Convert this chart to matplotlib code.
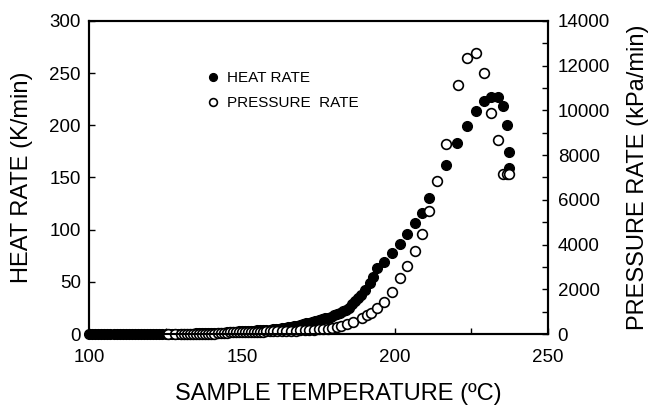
import matplotlib
matplotlib.use("Agg")
import matplotlib.pyplot as plt
from matplotlib.ticker import MultipleLocator

plt.rcParams["font.family"] = ["Liberation Sans", "DejaVu Sans"]

# heating rate (K/min) vs sample temperature (C)
HEAT_TEMP = [
    100, 101, 102, 103, 104, 105, 106, 107, 108, 109,
    110, 111, 112, 113, 114, 115, 116, 117, 118, 119,
    120, 121, 122, 123, 124, 125, 126, 127, 128, 129,
    130, 131, 132, 133, 134, 135, 136, 137, 138, 139,
    140, 141, 142, 143, 144, 145, 146, 147, 148, 149,
    150, 151, 152, 153, 154, 155, 156, 157, 158, 159,
    160, 161, 162, 163, 164, 165, 166, 167, 168, 169,
    170, 171, 172, 173, 174, 175, 176, 177, 178, 179,
    180, 181, 182, 183, 184, 185, 186, 187, 188, 189,
    190.2, 191.8, 192.9, 194.0, 196.5, 199.1, 201.6, 204.0, 206.5, 208.9,
    211.1, 216.6, 220.4, 223.4, 226.5, 229.1, 231.4, 233.6, 235.4, 236.5,
    237.4, 237.4,
]
HEAT_RATE = [
    0, 0, 0, 0, 0, 0, 0, 0, 0, 0,
    0, 0, 0, 0, 0, 0, 0, 0, 0, 0,
    0.5, 0.5, 0.5, 0.5, 0.5, 0.5, 0.5, 0.5, 0.5, 0.5,
    0.5, 0.5, 0.5, 0.5, 0.5, 1, 1, 1, 1, 1,
    1, 1, 1, 1, 1, 2.0, 2.2, 2.3, 2.5, 2.7,
    2.8, 2.9, 3.0, 3.2, 3.3, 3.5, 3.6, 3.8, 4.1, 4.4,
    4.8, 5.0, 5.4, 5.8, 6.3, 6.7, 7.2, 7.6, 8.0, 8.7,
    9.5, 10.3, 11.0, 11.7, 12.6, 13.3, 14.2, 15.0, 15.8, 16.8,
    18.0, 19.3, 20.5, 21.7, 23.0, 25.5, 28.5, 31.5, 34.5, 37.4,
    42.2, 48.6, 54.4, 63.0, 69.3, 78.0, 86.0, 95.6, 106.7, 116.3,
    130.7, 162.0, 183.4, 199.4, 213.8, 223.4, 227.5, 227.5, 218.6, 200.4,
    174.8, 159.4,
]

# pressure rise rate (kPa/min) vs sample temperature (C)
PRESS_TEMP = [
    125.8, 128.0, 130.0, 131.0, 132.0, 133.0, 134.0, 135.0, 136.0, 137.0,
    138.0, 139.0, 140.0, 141.0, 142.0, 143.0, 144.0, 145.0, 146.0, 147.0,
    148.0, 149.0, 150.0, 151.0, 152.0, 153.0, 154.0, 155.0, 156.0, 157.0,
    158.0, 159.0, 160.0, 161.5, 163.0, 164.5, 166.0, 167.5, 169.0, 170.5,
    172.0, 173.5, 175.0, 176.5, 178.0, 179.5, 181.0, 182.5, 184.2, 186.4,
    189.1, 190.7, 192.2, 194.0, 196.5, 199.1, 201.6, 204.0, 206.5, 208.9,
    211.2, 213.8, 216.6, 220.6, 223.4, 226.5, 229.2, 231.4, 233.6, 235.2,
    236.5, 237.4,
]
PRESS_RATE = [
    0, 0, 0, 0, 0, 0, 0, 0, 0, 0,
    0, 0, 0, 20, 30, 40, 50, 60, 75, 80,
    85, 90, 95, 100, 100, 105, 110, 110, 115, 115,
    120, 120, 125, 128, 135, 140, 145, 155, 165, 175,
    190, 200, 210, 220, 250, 280, 310, 350, 447, 550,
    700, 850, 925, 1150, 1450, 1890, 2530, 3040, 3730, 4460,
    5510, 6860, 8500, 11140, 12330, 12550, 11690, 9870, 8680, 7140,
    7140, 7140,
]

fig = plt.figure(figsize=(6.5, 4.08), dpi=100)
fig.subplots_adjust(left=0.137, right=0.843, bottom=0.181, top=0.949)
ax = fig.add_subplot(111)
ax2 = ax.twinx()

heat, = ax.plot(HEAT_TEMP, HEAT_RATE, "o", color="black", ms=7,
                mec="black", clip_on=False, label="HEAT RATE")
press, = ax2.plot(PRESS_TEMP, PRESS_RATE, "o", mfc="white", mec="black",
                  mew=1.2, ms=7, clip_on=False, label="PRESSURE  RATE")

ax.set_xlim(100, 250)
ax.set_ylim(0, 300)
ax2.set_ylim(0, 14000)

ax.xaxis.set_major_locator(MultipleLocator(50))
ax.xaxis.set_minor_locator(MultipleLocator(25))
ax.yaxis.set_major_locator(MultipleLocator(50))
ax2.yaxis.set_major_locator(MultipleLocator(2000))
ax2.yaxis.set_minor_locator(MultipleLocator(1000))

for a in (ax, ax2):
    for s in a.spines.values():
        s.set_linewidth(1.5)
ax.tick_params(axis="x", which="both", direction="in", length=4.5, width=1,
               labelsize=13.5, pad=11, top=False)
ax.tick_params(axis="y", which="both", direction="in", length=4.5, width=1,
               labelsize=13.5, pad=6)
ax2.tick_params(axis="y", which="both", direction="in", length=4.5, width=1,
                labelsize=13.5, pad=7)

ax.set_xlabel("SAMPLE TEMPERATURE (ºC)", fontsize=17)
ax.set_ylabel("HEAT RATE (K/min)", fontsize=17)
ax2.set_ylabel("PRESSURE RATE (kPa/min)", fontsize=17)
ax.xaxis.set_label_coords(0.544, -0.157)
ax.yaxis.set_label_coords(-0.122, 0.5)
ax2.yaxis.set_label_coords(1.172, 0.5)

ax2.legend(handles=[heat, press], loc="upper left",
           bbox_to_anchor=(0.2536, 0.84), frameon=False, fontsize=11,
           borderpad=0, borderaxespad=0, handlelength=1.0,
           handletextpad=0.4, labelspacing=0.75, markerscale=0.8)

fig.savefig("out.png", dpi=100)
